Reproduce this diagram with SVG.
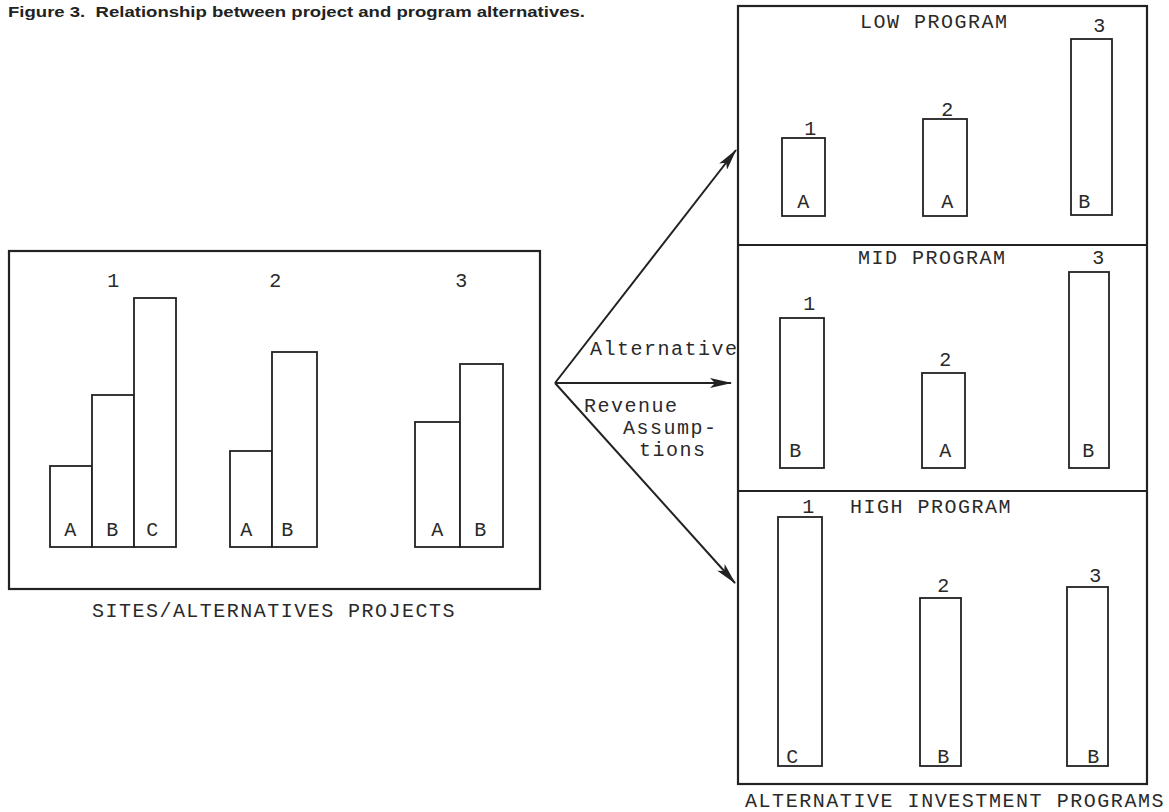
<svg xmlns="http://www.w3.org/2000/svg" width="1169" height="812" viewBox="0 0 1169 812">
<style>
.box{fill:none;stroke:#222;stroke-width:2.2}
.bar{fill:#fff;stroke:#222;stroke-width:1.8}
.t{font-family:"Liberation Mono","DejaVu Sans Mono",monospace;font-size:20px;letter-spacing:1.5px;fill:#2a2a2a}
.m{text-anchor:middle}
.c{stroke:#222;stroke-width:2;fill:none}
.title{font-family:"Liberation Sans",Arial,sans-serif;font-weight:bold;font-size:14.5px;fill:#222}
</style>
<defs>
<marker id="ah" markerWidth="22" markerHeight="10" refX="21" refY="5" orient="auto" markerUnits="userSpaceOnUse">
<path d="M0,0 L22,5 L0,10 L5,5 Z" fill="#222"/>
</marker>
</defs>
<rect width="1169" height="812" fill="#fff"/>
<text class="title" x="8" y="17" textLength="577" lengthAdjust="spacingAndGlyphs">Figure 3.&#160; Relationship between project and program alternatives.</text>

<g id="sites">
<rect class="box" x="9" y="251" width="531" height="338"/>
<rect class="bar" x="50" y="466" width="42" height="81"/>
<rect class="bar" x="92" y="395" width="42" height="152"/>
<rect class="bar" x="134" y="298" width="42" height="249"/>
<rect class="bar" x="230" y="451" width="42" height="96"/>
<rect class="bar" x="272" y="352" width="45" height="195"/>
<rect class="bar" x="415" y="422" width="45" height="125"/>
<rect class="bar" x="460" y="364" width="43" height="183"/>
<text class="t m" x="114" y="287">1</text>
<text class="t m" x="276" y="287">2</text>
<text class="t m" x="462" y="287">3</text>
<text class="t m" x="71" y="536">A</text>
<text class="t m" x="113" y="536">B</text>
<text class="t m" x="153" y="536">C</text>
<text class="t m" x="247" y="536">A</text>
<text class="t m" x="288" y="536">B</text>
<text class="t m" x="438" y="536">A</text>
<text class="t m" x="481" y="536">B</text>
<text class="t" x="92" y="617" textLength="364">SITES/ALTERNATIVES PROJECTS</text>
</g>

<g id="connectors">
<line class="c" x1="555" y1="383" x2="736" y2="150" marker-end="url(#ah)"/>
<line class="c" x1="555" y1="383" x2="731" y2="383" marker-end="url(#ah)"/>
<line class="c" x1="555" y1="383" x2="735" y2="583" marker-end="url(#ah)"/>
<text class="t" x="590" y="355">Alternative</text>
<text class="t" x="584" y="412">Revenue</text>
<text class="t" x="623" y="434">Assump-</text>
<text class="t" x="639" y="456">tions</text>
</g>

<g id="programs">
<rect class="box" x="738" y="6" width="409" height="778"/>
<line class="box" x1="738" y1="245" x2="1147" y2="245"/>
<line class="box" x1="738" y1="491" x2="1147" y2="491"/>
<text class="t" x="745" y="807" textLength="420">ALTERNATIVE INVESTMENT PROGRAMS</text>
</g>

<g id="low">
<text class="t" x="860" y="28">LOW PROGRAM</text>
<rect class="bar" x="782" y="138" width="43" height="78"/>
<rect class="bar" x="923" y="119" width="44" height="97"/>
<rect class="bar" x="1071" y="39" width="41" height="176"/>
<text class="t m" x="811" y="135">1</text>
<text class="t m" x="948" y="116">2</text>
<text class="t m" x="1100" y="32">3</text>
<text class="t m" x="804" y="208">A</text>
<text class="t m" x="948" y="208">A</text>
<text class="t m" x="1085" y="208">B</text>
</g>

<g id="mid">
<text class="t" x="858" y="264">MID PROGRAM</text>
<rect class="bar" x="780" y="318" width="44" height="150"/>
<rect class="bar" x="922" y="373" width="43" height="95"/>
<rect class="bar" x="1069" y="272" width="40" height="196"/>
<text class="t m" x="810" y="310">1</text>
<text class="t m" x="946" y="366">2</text>
<text class="t m" x="1099" y="264">3</text>
<text class="t m" x="796" y="457">B</text>
<text class="t m" x="946" y="457">A</text>
<text class="t m" x="1089" y="457">B</text>
</g>

<g id="high">
<text class="t" x="850" y="513">HIGH PROGRAM</text>
<rect class="bar" x="778" y="517" width="44" height="249"/>
<rect class="bar" x="920" y="598" width="41" height="168"/>
<rect class="bar" x="1067" y="587" width="41" height="179"/>
<text class="t m" x="809" y="513">1</text>
<text class="t m" x="944" y="592">2</text>
<text class="t m" x="1096" y="582">3</text>
<text class="t m" x="793" y="763">C</text>
<text class="t m" x="944" y="763">B</text>
<text class="t m" x="1094" y="763">B</text>
</g>
</svg>
